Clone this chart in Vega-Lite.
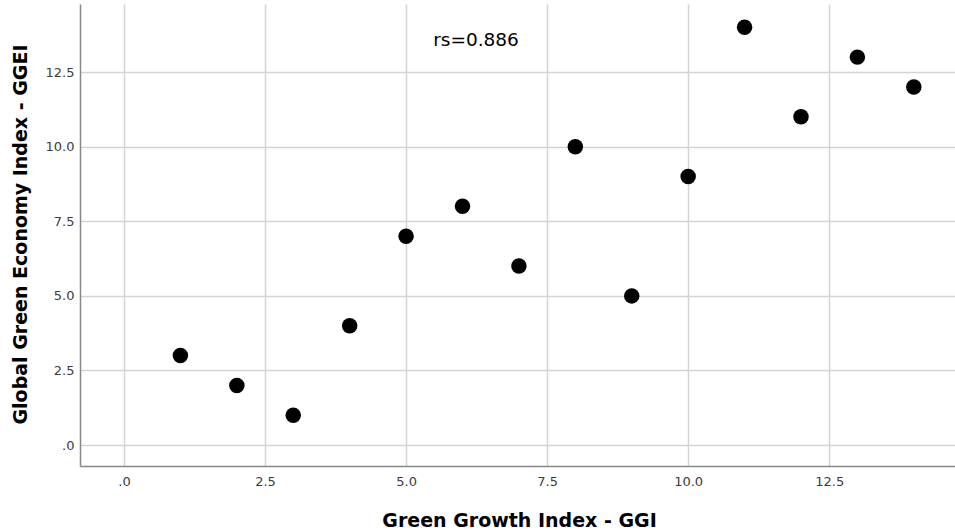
{
  "$schema": "https://vega.github.io/schema/vega-lite/v6.json",
  "width": 875,
  "height": 462,
  "autosize": "none",
  "padding": {"left": 80, "top": 4, "right": 0, "bottom": 64},
  "background": "white",
  "config": {
    "view": {"stroke": null},
    "font": "DejaVu Sans",
    "axis": {
      "gridColor": "#d4d4d4",
      "gridWidth": 1.5,
      "domainColor": "#888888",
      "domainWidth": 1.5,
      "ticks": false,
      "labelColor": "#3c3c3c",
      "labelFontSize": 13,
      "labelFont": "DejaVu Sans",
      "titleFont": "DejaVu Sans",
      "titleFontSize": 19,
      "titleFontWeight": "bold",
      "titleColor": "#000000"
    }
  },
  "datasets": {
    "pts": [
      {"GGI": 1, "GGEI": 3}, {"GGI": 2, "GGEI": 2}, {"GGI": 3, "GGEI": 1},
      {"GGI": 4, "GGEI": 4}, {"GGI": 5, "GGEI": 7}, {"GGI": 6, "GGEI": 8},
      {"GGI": 7, "GGEI": 6}, {"GGI": 8, "GGEI": 10}, {"GGI": 9, "GGEI": 5},
      {"GGI": 10, "GGEI": 9}, {"GGI": 11, "GGEI": 14}, {"GGI": 12, "GGEI": 11},
      {"GGI": 13, "GGEI": 13}, {"GGI": 14, "GGEI": 12}
    ],
    "ann": [{"x": 6.24, "y": 13.38, "label": "rs=0.886"}]
  },
  "layer": [
    {
      "data": {"name": "pts"},
      "mark": {"type": "point", "filled": true, "color": "#000000", "opacity": 1, "size": 240, "shape": "circle"},
      "encoding": {
        "x": {
          "field": "GGI", "type": "quantitative",
          "scale": {"domain": [-0.78, 14.73], "nice": false, "zero": false},
          "axis": {
            "title": "Green Growth Index - GGI",
            "values": [0, 2.5, 5, 7.5, 10, 12.5],
            "labelExpr": "datum.value == 0 ? '.0' : format(datum.value, '.1f')",
            "labelPadding": 9,
            "titleX": 439,
            "titleY": 60,
            "titleBaseline": "alphabetic",
            "titleAlign": "center"
          }
        },
        "y": {
          "field": "GGEI", "type": "quantitative",
          "scale": {"domain": [-0.7, 14.78], "nice": false, "zero": false},
          "axis": {
            "title": "Global Green Economy Index - GGEI",
            "values": [0, 2.5, 5, 7.5, 10, 12.5],
            "labelExpr": "datum.value == 0 ? '.0' : format(datum.value, '.1f')",
            "labelPadding": 6,
            "titleX": -54,
            "titleY": 230,
            "titleAlign": "center",
            "titleBaseline": "alphabetic",
            "titleAngle": -90
          }
        }
      }
    },
    {
      "data": {"name": "ann"},
      "mark": {"type": "text", "fontSize": 18.5, "font": "DejaVu Sans", "color": "#000000", "align": "center", "baseline": "alphabetic"},
      "encoding": {
        "x": {"field": "x", "type": "quantitative"},
        "y": {"field": "y", "type": "quantitative"},
        "text": {"field": "label"}
      }
    }
  ]
}
